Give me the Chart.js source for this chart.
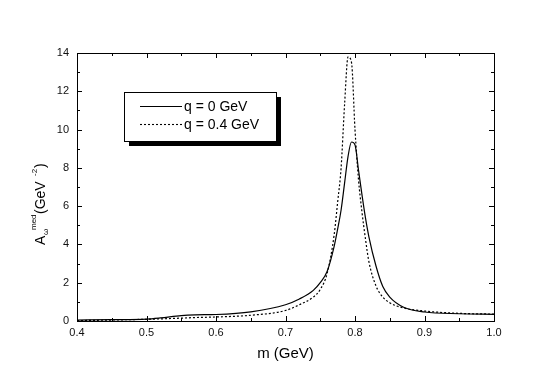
<!DOCTYPE html>
<html lang="en">
<head>
  <meta charset="utf-8">
  <title>A_omega med spectral function</title>
  <script src="https://cdn.jsdelivr.net/npm/chart.js@4.4.1/dist/chart.umd.min.js"></script>
  <style>
    * { margin: 0; padding: 0; }
    body { background: #fff; }
    #wrap { width: 545px; height: 380px; }
  </style>
</head>
<body>
  <div id="wrap"><canvas id="specChart" width="545" height="380"></canvas></div>
  <script>
    // invariant mass grid (GeV)
    const masses = [0.40, 0.45, 0.50, 0.52, 0.55, 0.57, 0.60, 0.65, 0.70, 0.72, 0.74, 0.75, 0.76,
      0.77, 0.775, 0.78, 0.785, 0.79, 0.795, 0.80, 0.805, 0.81, 0.815, 0.82, 0.83, 0.84, 0.85,
      0.87, 0.90, 0.95, 1.00];
    // q = 0 GeV
    const specQ0 = [0.05, 0.07, 0.10, 0.16, 0.28, 0.32, 0.34, 0.48, 0.85, 1.15, 1.6, 2.0, 2.6,
      3.9, 4.8, 5.8, 7.2, 8.6, 9.35, 9.2, 7.9, 6.6, 5.4, 4.4, 2.9, 1.8, 1.25,
      0.72, 0.47, 0.38, 0.35];
    // q = 0.4 GeV
    const specQ04 = [0.02, 0.05, 0.09, 0.11, 0.15, 0.18, 0.21, 0.30, 0.55, 0.85, 1.25, 1.65, 2.5,
      4.5, 6.2, 8.0, 11.3, 13.8, 13.5, 10.0, 7.4, 5.7, 4.3, 3.1, 1.85, 1.25, 0.95,
      0.68, 0.52, 0.40, 0.36];
    const xTicks = [0.4, 0.5, 0.6, 0.7, 0.8, 0.9, 1.0];
    const yTicks = [0, 2, 4, 6, 8, 10, 12, 14];
    const seriesLabels = ['q = 0 GeV', 'q = 0.4 GeV'];

    const FONT = '"Liberation Sans", Arial, sans-serif';

    const toPoints = (vals) => masses.map((m, i) => ({ x: m, y: vals[i] }));

    // frame, inward ticks on all four sides, y title and boxed legend
    const decorations = {
      id: 'decorations',
      afterDraw(chart) {
        const ctx = chart.ctx;
        const a = chart.chartArea;
        const xs = chart.scales.x;
        const ys = chart.scales.y;
        ctx.save();
        ctx.strokeStyle = '#000';
        ctx.lineWidth = 1;
        ctx.strokeRect(Math.round(a.left) + 0.5, Math.round(a.top) + 0.5,
          Math.round(a.right - a.left), Math.round(a.bottom - a.top));

        ctx.beginPath();
        for (let v = 0.4; v <= 1.0001; v += 0.05) {
          const major = Math.abs(v * 10 - Math.round(v * 10)) < 1e-6;
          const len = major ? 5 : 3;
          const px = Math.round(xs.getPixelForValue(v)) + 0.5;
          ctx.moveTo(px, a.bottom); ctx.lineTo(px, a.bottom - len);
          ctx.moveTo(px, a.top); ctx.lineTo(px, a.top + len);
        }
        for (let v = 0; v <= 14; v += 1) {
          const len = v % 2 === 0 ? 5 : 3;
          const py = Math.round(ys.getPixelForValue(v)) + 0.5;
          ctx.moveTo(a.left, py); ctx.lineTo(a.left + len, py);
          ctx.moveTo(a.right, py); ctx.lineTo(a.right - len, py);
        }
        ctx.stroke();

        // y axis title, rotated, with sub/superscripts
        ctx.fillStyle = '#000';
        ctx.translate(45, 245);
        ctx.rotate(-Math.PI / 2);
        ctx.textBaseline = 'alphabetic';
        ctx.textAlign = 'left';
        ctx.font = '14px ' + FONT;
        ctx.fillText('A', 0, 0);
        ctx.font = '8px ' + FONT;
        ctx.fillText('\u03c9', 10, 3);
        ctx.fillText('med', 15, -9);
        ctx.font = '14px ' + FONT;
        ctx.fillText('(GeV', 31, 0);
        ctx.font = '8px ' + FONT;
        ctx.fillText('-2', 69, -8);
        ctx.font = '14px ' + FONT;
        ctx.fillText(')', 77, 0);
        ctx.setTransform(1, 0, 0, 1, 0, 0);

        // x axis title
        ctx.font = '15px ' + FONT;
        ctx.textAlign = 'center';
        ctx.fillText('m (GeV)', (a.left + a.right) / 2, 358);

        // legend with drop shadow
        const bx = 124, by = 92, bw = 152, bh = 49;
        ctx.fillStyle = '#000';
        ctx.fillRect(bx + 5, by + 5, bw, bh);
        ctx.fillStyle = '#fff';
        ctx.fillRect(bx, by, bw, bh);
        ctx.strokeRect(bx + 0.5, by + 0.5, bw, bh);
        const rows = [106, 124];
        chart.data.datasets.forEach((ds, i) => {
          ctx.beginPath();
          ctx.setLineDash(ds.borderDash || []);
          ctx.lineWidth = 1.1;
          ctx.moveTo(140, rows[i] + 0.5);
          ctx.lineTo(182, rows[i] + 0.5);
          ctx.stroke();
          ctx.setLineDash([]);
          ctx.fillStyle = '#000';
          ctx.font = '14px ' + FONT;
          ctx.textAlign = 'left';
          ctx.textBaseline = 'middle';
          ctx.fillText(ds.label, 184, rows[i] + 1);
        });
        ctx.restore();
      }
    };

    new Chart(document.getElementById('specChart'), {
      type: 'line',
      data: {
        datasets: [
          {
            label: seriesLabels[0],
            data: toPoints(specQ0),
            borderColor: '#000',
            borderWidth: 1.2,
            pointRadius: 0,
            fill: false,
            cubicInterpolationMode: 'monotone'
          },
          {
            label: seriesLabels[1],
            data: toPoints(specQ04),
            borderColor: '#000',
            borderWidth: 1.2,
            borderDash: [2, 2],
            pointRadius: 0,
            fill: false,
            cubicInterpolationMode: 'monotone'
          }
        ]
      },
      options: {
        responsive: false,
        animation: false,
        devicePixelRatio: 1,
        layout: { padding: { top: 53, right: 51, bottom: 0, left: 0 } },
        plugins: { legend: { display: false }, tooltip: { enabled: false } },
        scales: {
          x: {
            type: 'linear',
            min: 0.4,
            max: 1.0,
            afterBuildTicks: (s) => { s.ticks = xTicks.map(v => ({ value: v })); },
            afterFit: (s) => { s.height = 59; },
            grid: { display: false, drawTicks: false },
            border: { display: false },
            ticks: {
              padding: 5,
              color: '#111',
              font: { size: 11, family: FONT },
              maxRotation: 0,
              callback: (v) => Number(v).toFixed(1)
            }
          },
          y: {
            min: 0,
            max: 14,
            afterBuildTicks: (s) => { s.ticks = yTicks.map(v => ({ value: v })); },
            afterFit: (s) => { s.width = 77; },
            grid: { display: false, drawTicks: false },
            border: { display: false },
            ticks: {
              padding: 8,
              color: '#111',
              font: { size: 11, family: FONT }
            }
          }
        }
      },
      plugins: [decorations]
    });
  </script>
</body>
</html>
